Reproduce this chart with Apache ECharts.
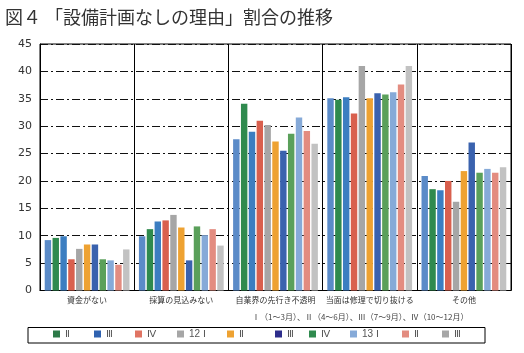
<!DOCTYPE html>
<html>
<head>
<meta charset="utf-8">
<script src="https://cdn.jsdelivr.net/npm/echarts@6/dist/echarts.min.js"></script>
<style>
  html, body { margin: 0; padding: 0; background: #fff; }
  #main { width: 524px; height: 353px; }
</style>
</head>
<body>
<div id="main"></div>
<script>
// 理由（カテゴリ）
var categories = ['資金がない', '採算の見込みない', '自業界の先行き不透明', '当面は修理で切り抜ける', 'その他'];

// 系列名（四半期）と凡例表示
var seriesNames = ['11-1', '11-2', '11-3', '11-4', '12-1', '12-2', '12-3', '12-4', '13-1', '13-2', '13-3'];
var legendLabels = ['Ⅰ', 'Ⅱ', 'Ⅲ', 'Ⅳ', '12 Ⅰ', 'Ⅱ', 'Ⅲ', 'Ⅳ', '13 Ⅰ', 'Ⅱ', 'Ⅲ'];

// 各四半期の割合（%）カテゴリ順
var q11_1 = [9.2, 9.9, 27.6, 35.1, 20.9];
var q11_2 = [9.6, 11.2, 34.1, 34.8, 18.5];
var q11_3 = [9.9, 12.6, 29.0, 35.3, 18.3];
var q11_4 = [5.7, 12.8, 31.0, 32.3, 20.0];
var q12_1 = [7.6, 13.8, 30.2, 41.0, 16.2];
var q12_2 = [8.4, 11.5, 27.2, 35.1, 21.8];
var q12_3 = [8.4, 5.5, 25.5, 36.0, 27.0];
var q12_4 = [5.7, 11.7, 28.6, 35.8, 21.5];
var q13_1 = [5.5, 10.1, 31.6, 36.2, 22.2];
var q13_2 = [4.7, 11.2, 29.1, 37.6, 21.5];
var q13_3 = [7.5, 8.2, 26.8, 41.0, 22.5];
var values = [q11_1, q11_2, q11_3, q11_4, q12_1, q12_2, q12_3, q12_4, q13_1, q13_2, q13_3];

var colors = ['#5b8bc8', '#2f8a4e', '#3c7ec1', '#d9604e', '#a6a6a6', '#eea232', '#3a62ae', '#5aa05a', '#86aad8', '#e38c80', '#c2c2c2'];
var legendColors = ['#5b8bc8', '#2d7a48', '#2f62b0', '#e07463', '#a6a6a6', '#eea232', '#2e2e8c', '#2f8a4e', '#86aad8', '#e38c80', '#a6a6a6'];

// 凡例の位置（1つ目は表示なし）
var legendX = [0, 53, 94, 135, 177, 227, 275, 309, 350, 402, 442];

var chart = echarts.init(document.getElementById('main'));

var series = seriesNames.map(function (n, i) {
  return {
    name: n,
    type: 'bar',
    data: values[i],
    barGap: '22%',
    barCategoryGap: '10%',
    itemStyle: { color: colors[i] }
  };
});

var legends = [];
for (var i = 1; i < seriesNames.length; i++) {
  legends.push({
    data: [{ name: seriesNames[i], itemStyle: { color: legendColors[i] } }],
    left: legendX[i],
    top: 329,
    padding: 0,
    icon: 'rect',
    itemWidth: 7,
    itemHeight: 7,
    itemGap: 4,
    selectedMode: false,
    formatter: (function (k) { return function () { return legendLabels[k]; }; })(i),
    textStyle: { fontSize: 10, color: '#555', fontFamily: 'Liberation Sans' }
  });
}

var option = {
  animation: false,
  color: colors,
  title: [{
    text: '図４ 「設備計画なしの理由」割合の推移',
    left: 5,
    top: 8,
    padding: 0,
    textStyle: { fontSize: 18, fontWeight: 'normal', color: '#333', fontFamily: 'Noto Sans CJK JP' }
  }, {
    text: 'Ⅰ（1～3月）、Ⅱ（4～6月）、Ⅲ（7～9月）、Ⅳ（10～12月）',
    left: 252,
    top: 313,
    padding: 0,
    textStyle: { fontSize: 8, fontWeight: 'normal', color: '#444', fontFamily: 'Noto Sans CJK JP' }
  }],
  legend: legends,
  graphic: [{
    type: 'rect',
    shape: { x: 28, y: 327.5, width: 457, height: 15.5 },
    style: { fill: 'none', stroke: '#000', lineWidth: 1 }
  }],
  grid: {
    left: 40,
    right: 13,
    top: 44,
    bottom: 62.5,
    show: true,
    borderColor: '#000',
    borderWidth: 1
  },
  xAxis: {
    type: 'category',
    data: categories,
    axisLine: { show: true, lineStyle: { color: '#000', width: 1 } },
    axisTick: { show: false },
    splitLine: { show: true, interval: 0, lineStyle: { color: '#000', width: 1 } },
    axisLabel: { interval: 0, fontSize: 8, color: '#333', margin: 5, fontFamily: 'Noto Sans CJK JP' }
  },
  yAxis: {
    type: 'value',
    min: 0,
    max: 45,
    interval: 5,
    axisLine: { show: true, lineStyle: { color: '#000', width: 1 } },
    axisTick: { show: false },
    splitLine: { show: true, lineStyle: { color: '#111', width: 1, type: [8, 3, 2, 3] } },
    axisLabel: { fontSize: 11, color: '#333', margin: 8, fontFamily: 'DejaVu Sans' }
  },
  series: series
};

chart.setOption(option);
</script>
</body>
</html>
